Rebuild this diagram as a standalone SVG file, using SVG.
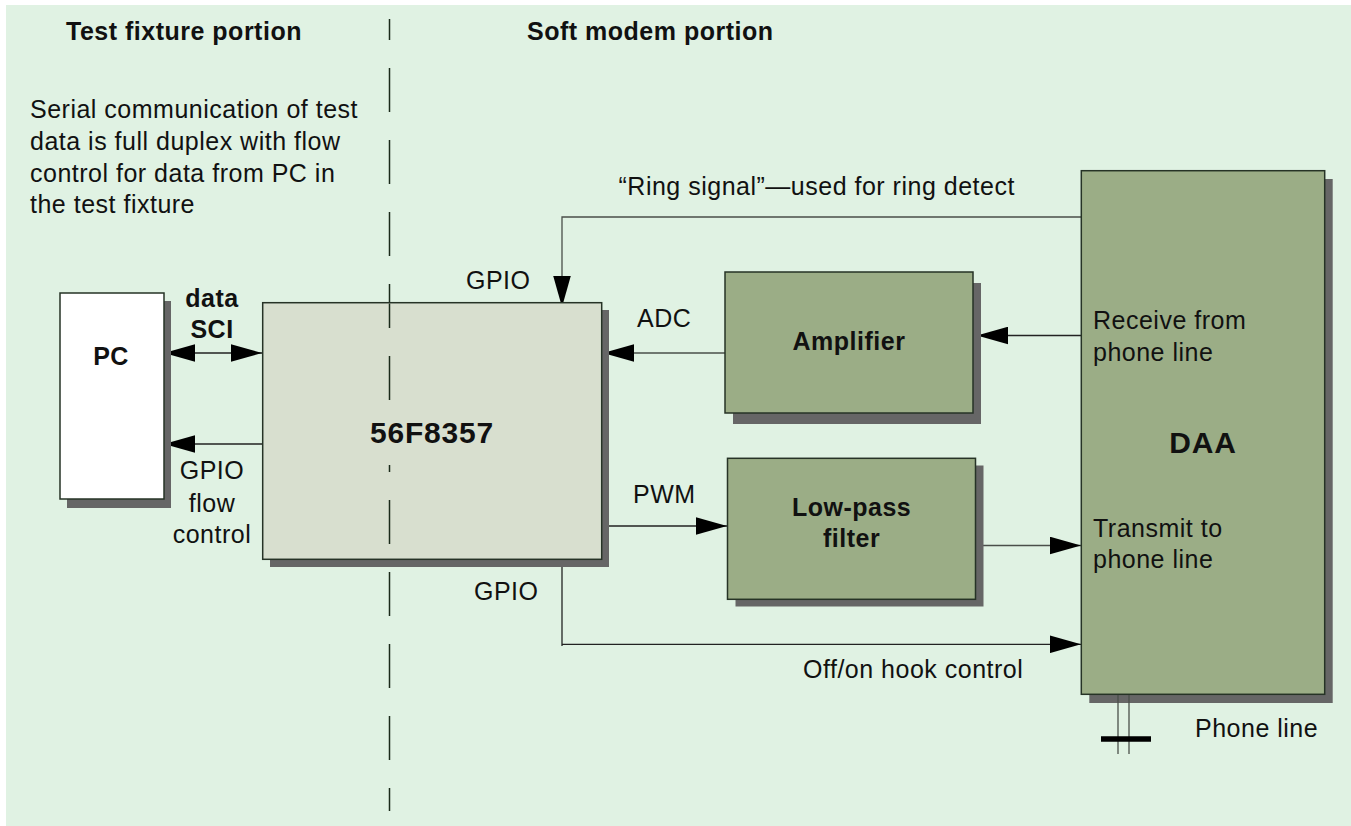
<svg xmlns="http://www.w3.org/2000/svg" width="1351" height="826" viewBox="0 0 1351 826">
<style>
text{font-family:"Liberation Sans",Arial,Helvetica,sans-serif;fill:#111;}
.n{font-size:25px;letter-spacing:0.5px;}
.b{font-size:25px;font-weight:bold;letter-spacing:0.5px;}
.big{font-size:30px;font-weight:bold;letter-spacing:0.8px;}
.m{text-anchor:middle;}
.box{stroke:#263326;stroke-width:1.5;}
.shadow{fill:#666666;}
.green{fill:#9bad86;}
.conn{fill:none;stroke:#222;stroke-width:1.3;}
.gray{stroke:#4a4f4a;}
.dash{stroke:#1a2a1a;stroke-width:1.5;stroke-dasharray:44 28;}
</style>
<defs>
<marker id="arr" markerUnits="userSpaceOnUse" markerWidth="31" markerHeight="18" viewBox="0 0 30 17" refX="30" refY="8.5" orient="auto-start-reverse">
<path d="M0,0 L30,8.5 L0,17 z" fill="#000"/>
</marker>
</defs>
<rect x="6" y="5" width="1345" height="821" fill="#e0f2e3"/>
<line class="dash" x1="389.5" y1="19" x2="389.5" y2="811" stroke-dashoffset="23"/>
<g id="labels">
<text class="b" x="66" y="40">Test fixture portion</text>
<text class="b" x="527" y="40">Soft modem portion</text>
<text class="n" x="30" y="118">Serial communication of test</text>
<text class="n" x="30" y="150">data is full duplex with flow</text>
<text class="n" x="30" y="182">control for data from PC in</text>
<text class="n" x="30" y="213">the test fixture</text>
</g>
<g id="connectors">
<polyline class="conn gray" points="1081,217 562,217 562,307" marker-end="url(#arr)"/>
<line class="conn" x1="164" y1="353" x2="262" y2="353" marker-start="url(#arr)" marker-end="url(#arr)"/>
<line class="conn" x1="262" y1="444" x2="164" y2="444" marker-end="url(#arr)"/>
<line class="conn gray" x1="725" y1="353" x2="603" y2="353" marker-end="url(#arr)"/>
<line class="conn" x1="1081" y1="335.5" x2="977" y2="335.5" marker-end="url(#arr)"/>
<line class="conn" x1="602" y1="526" x2="727" y2="526" marker-end="url(#arr)"/>
<line class="conn gray" x1="976" y1="545.5" x2="1081" y2="545.5" marker-end="url(#arr)"/>
<polyline class="conn" points="562,559 562,646"/>
<polyline class="conn" points="562,644.3 1081,644.3" marker-end="url(#arr)"/>
<text class="n" x="618.5" y="195">“Ring signal”—used for ring detect</text>
<text class="n" x="466" y="289">GPIO</text>
<text class="n" x="637" y="327">ADC</text>
<text class="n" x="633" y="503">PWM</text>
<text class="n" x="474" y="600">GPIO</text>
<text class="n" x="803" y="678">Off/on hook control</text>
<text class="b m" x="212" y="307">data</text>
<text class="b m" x="212" y="338">SCI</text>
<text class="n m" x="212" y="479">GPIO</text>
<text class="n m" x="212" y="512">flow</text>
<text class="n m" x="212" y="543">control</text>
<text class="n" x="1195" y="737">Phone line</text>
</g>
<g id="pc">
<rect class="shadow" x="67" y="301" width="104" height="207"/>
<rect class="box" x="60" y="293" width="104" height="206" fill="#ffffff"/>
<text class="b m" x="111" y="365">PC</text>
</g>
<g id="mcu">
<rect class="shadow" x="270" y="310" width="339" height="257"/>
<rect class="box" x="262.7" y="302.7" width="339" height="256.6" fill="#d8dfcf"/>
<line class="dash" x1="389.5" y1="303.5" x2="389.5" y2="558.5" stroke-dashoffset="19.5"/>
<rect x="362" y="412" width="140" height="53" fill="#d8dfcf"/>
<text class="big m" x="432" y="443">56F8357</text>
</g>
<g id="amplifier">
<rect class="shadow" x="733" y="283" width="248" height="141"/>
<rect class="box green" x="725" y="272" width="248" height="141"/>
<text class="b m" x="849" y="350">Amplifier</text>
</g>
<g id="lowpass">
<rect class="shadow" x="735.5" y="465.5" width="248" height="141"/>
<rect class="box green" x="727.5" y="458.3" width="248" height="141"/>
<text class="b m" x="851.6" y="516">Low-pass</text>
<text class="b m" x="851.6" y="547">filter</text>
</g>
<g id="daa">
<rect class="shadow" x="1089.3" y="179" width="243.4" height="524"/>
<rect class="box green" x="1081.3" y="170.7" width="243.4" height="523.6"/>
<text class="n" x="1093" y="329">Receive from</text>
<text class="n" x="1093" y="361">phone line</text>
<text class="big m" x="1203" y="453">DAA</text>
<text class="n" x="1093" y="537">Transmit to</text>
<text class="n" x="1093" y="568">phone line</text>
</g>
<g id="phoneline">
<line class="conn gray" x1="1118" y1="695" x2="1118" y2="754"/>
<line class="conn gray" x1="1129" y1="695" x2="1129" y2="754"/>
<line x1="1101" y1="739" x2="1151" y2="739" stroke="#000" stroke-width="5.5"/>
</g>
</svg>
